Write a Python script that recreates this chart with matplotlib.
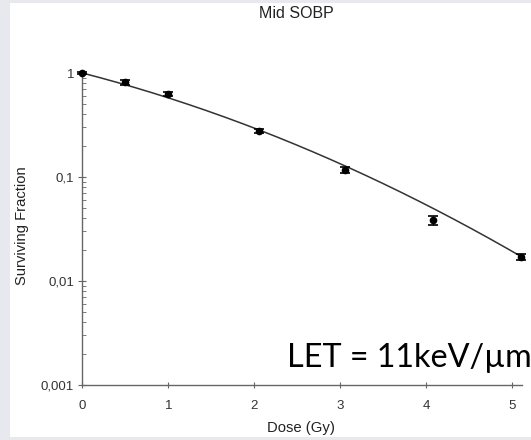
import numpy as np
import matplotlib
matplotlib.use("Agg")
import matplotlib.pyplot as plt
from matplotlib.patches import Rectangle
from matplotlib.ticker import LogLocator, NullFormatter

# Data
dose = [0.0, 0.5, 1.0, 2.05, 3.055, 4.075, 5.1]
surv = [1.0, 0.814, 0.628, 0.279, 0.117, 0.0386, 0.0171]
err = [0.02, 0.05, 0.03, 0.012, 0.007, 0.004, 0.0012]
# Linear-quadratic fit parameters
alpha = 0.49
beta = 0.06

yticks = [0.001, 0.01, 0.1, 1]
yticklabels = ["0,001", "0,01", "0,1", "1"]
xticks = [0, 1, 2, 3, 4, 5]
xticklabels = ["0", "1", "2", "3", "4", "5"]

W, H = 531, 440
fig = plt.figure(figsize=(W / 100, H / 100), dpi=100)
fig.patch.set_facecolor("#e8e9ee")
fig.patches.append(Rectangle((10 / W, 3 / H), (W - 10) / W, (H - 6) / H,
                             transform=fig.transFigure, facecolor="white",
                             edgecolor="none", zorder=-10))

x0, x1 = 82.3, 521.7
yb, yt = 385, 73
ax = fig.add_axes([x0 / W, 1 - yb / H, (x1 - x0) / W, (yb - yt) / H])
ax.set_facecolor("none")
ax.set_yscale("log")
ax.set_xlim(0, 5.11)
ax.set_ylim(0.001, 1.0)

dfit = np.linspace(0, 5.12, 200)
ax.plot(dfit, np.exp(-alpha * dfit - beta * dfit ** 2), color="#333333", lw=1.1,
        clip_on=False, zorder=2)
ax.errorbar(dose, surv, yerr=err, fmt="o", color="black", ms=4.5, capsize=3.5,
            elinewidth=1.0, capthick=1.2, clip_on=False, zorder=3)

for s in ["top", "right"]:
    ax.spines[s].set_visible(False)
for s in ["left", "bottom"]:
    ax.spines[s].set_color("#666666")
    ax.spines[s].set_linewidth(1.0)

font = "Liberation Sans"
ax.set_yticks(yticks)
ax.set_yticklabels(yticklabels, fontsize=9.5, family=font, color="#333333")
ax.yaxis.set_minor_locator(LogLocator(base=10, subs=np.arange(2, 10)))
ax.yaxis.set_minor_formatter(NullFormatter())
ax.tick_params(axis="y", which="major", direction="inout", length=6, color="#666666", pad=3)
ax.tick_params(axis="y", which="minor", direction="in", length=3, color="#666666")
ax.set_xticks(xticks)
ax.set_xticklabels(xticklabels, fontsize=9.5, family=font, color="#333333")
ax.tick_params(axis="x", which="major", direction="inout", length=5, color="#666666", pad=8)

fig.text(296 / W, 1 - 14 / H, "Mid SOBP", ha="center", va="center",
         fontsize=11.5, family=font, color="#222222")
fig.text(22 / W, 1 - 226 / H, "Surviving Fraction", ha="center", va="center",
         rotation=90, fontsize=10.6, family=font, color="#222222")
fig.text(301 / W, 1 - 428 / H, "Dose (Gy)", ha="center", va="center",
         fontsize=10.7, family=font, color="#222222")
fig.text(287 / W, 1 - 367 / H, "LET = 11keV/\u00b5m", ha="left", va="baseline",
         fontsize=23.3, family="Lato", color="black")

fig.savefig("out.png", dpi=100, facecolor=fig.get_facecolor())
